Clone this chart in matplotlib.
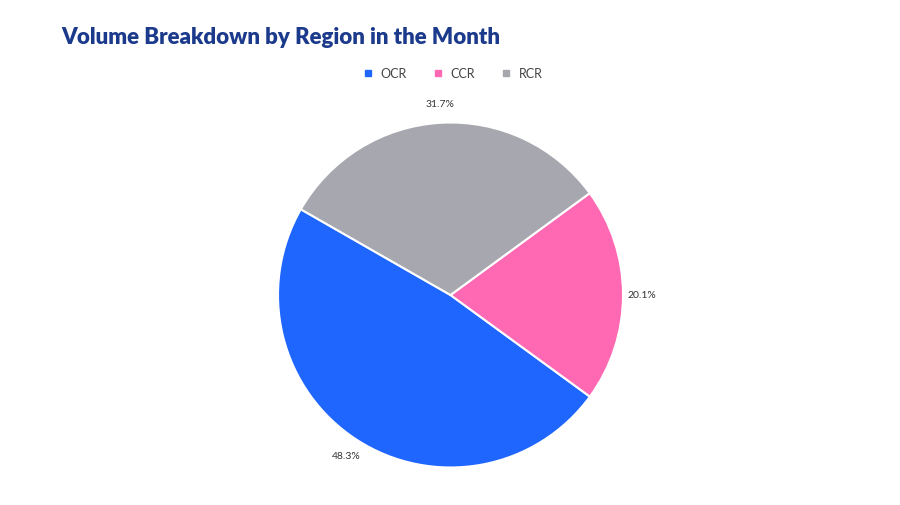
import matplotlib.pyplot as plt
from matplotlib.lines import Line2D

# Volume by region
regions = ['OCR', 'CCR', 'RCR']
shares = [48.3, 20.1, 31.7]
colors = ['#1f66ff', '#ff69b4', '#a7a7af']

plt.rcParams['font.family'] = ['Lato', 'DejaVu Sans']

fig = plt.figure(figsize=(9, 5.06), dpi=100)
fig.patch.set_facecolor('white')

W, H = 900, 506
cx, cy, r = 450.5, 296, 172.5
ax = fig.add_axes([(cx - r) / W, (H - cy - r) / H, 2 * r / W, 2 * r / H])

wedges, texts, autotexts = ax.pie(
    shares, colors=colors, startangle=150.2, counterclock=True,
    autopct='%.1f%%', pctdistance=1.11,
    wedgeprops=dict(edgecolor='white', linewidth=1.5),
    textprops=dict(fontsize=7.5, color='#333333'))
ax.set_xlim(-1, 1)
ax.set_ylim(-1, 1)
ax.set_aspect('equal')
ax.axis('off')

fig.text(61 / W, 1 - 38 / H, 'Volume Breakdown by Region in the Month',
         fontsize=16, fontweight='heavy', color='#1b3a8c',
         ha='left', va='center')

handles = [Line2D([], [], marker='s', linestyle='', markersize=4.5,
                  markerfacecolor=c, markeredgecolor=c) for c in colors]
fig.legend(handles, regions, loc='center', bbox_to_anchor=(452 / W, 1 - 74 / H),
           ncol=3, frameon=False, fontsize=9, handletextpad=0.5,
           columnspacing=2.0, labelcolor='#444444', handlelength=1.0)

fig.savefig('out.png', dpi=100)
